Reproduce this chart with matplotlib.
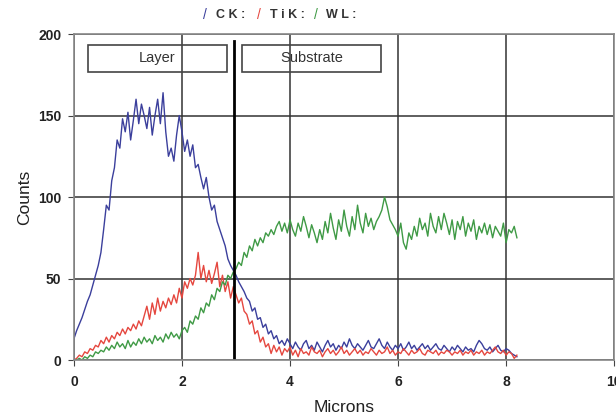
import numpy as np
import matplotlib.pyplot as plt
from matplotlib.patches import Rectangle

step = 0.05  # microns between samples

ck = [13, 18, 22, 26, 31, 36, 40, 46, 52, 58,
      66, 80, 95, 92, 110, 118, 135, 130, 148, 140,
      152, 135, 147, 160, 145, 157, 150, 142, 155, 138,
      150, 160, 145, 164, 140, 125, 130, 122, 138, 150,
      140, 128, 135, 125, 132, 118, 120, 112, 105, 112,
      100, 92, 95, 85, 80, 75, 70, 62, 58, 55,
      52, 48, 45, 42, 38, 36, 30, 32, 25, 26,
      20, 22, 16, 18, 13, 15, 10, 12, 9, 13,
      10, 7, 11, 8, 6, 10, 12, 7, 9, 6,
      11, 8, 5, 9, 12, 8, 10, 6, 9, 7,
      11, 8, 13, 9, 7, 10, 8, 6, 9, 12,
      8, 7, 10, 13, 9, 7, 11, 8, 6, 9,
      7, 10, 6, 8, 11, 7, 9, 6, 8, 10,
      7, 9, 6, 8, 10, 7, 6, 9, 7, 5,
      8, 6, 9, 7, 5, 8, 6, 7, 5, 9,
      12, 10, 7, 6, 8, 5, 7, 9, 6, 5,
      7, 6, 4, 3, 2]

tik = [0, 1, 3, 2, 5, 4, 7, 6, 9, 8,
       12, 10, 14, 11, 15, 13, 17, 15, 19, 16,
       20, 18, 22, 19, 24, 21, 27, 33, 25, 35,
       28, 38, 30, 36, 32, 38, 34, 40, 35, 44,
       38, 48, 44, 50, 46, 52, 66, 50, 58, 48,
       55, 47, 53, 60, 45, 52, 42, 48, 38, 45,
       40, 35, 38, 30, 28, 22, 24, 16, 18, 11,
       14, 8, 10, 4, 9, 5, 8, 3, 7, 5,
       8, 3, 6, 2, 7, 4, 5, 3, 8, 5,
       4, 6, 2, 5, 7, 4, 6, 3, 5, 8,
       4, 6, 3, 5, 7, 4, 6, 3, 5, 4,
       7, 5, 3, 6, 4, 5, 8, 4, 6, 3,
       5, 4, 7, 5, 3, 6, 4, 5, 7, 4,
       3, 6, 5, 4, 6, 3, 5, 4, 6, 5,
       3, 5, 4, 6, 3, 5, 4, 6, 3, 5,
       4, 6, 3, 5, 4, 6, 8, 5, 4, 6,
       3, 5, 4, 1, 3]

wl = [0, 0, 1, 0, 2, 1, 3, 2, 5, 4,
      6, 5, 8, 6, 9, 7, 11, 8, 10, 7,
      12, 8, 11, 9, 13, 10, 14, 11, 13, 10,
      15, 12, 14, 11, 16, 13, 17, 14, 16, 13,
      18, 20, 17, 24, 22, 27, 25, 32, 29, 35,
      33, 40, 37, 44, 42, 48, 46, 52, 50, 54,
      56, 60, 58, 66, 63, 70, 67, 74, 70, 75,
      72, 78, 76, 80, 77, 82, 85, 79, 84, 78,
      86, 80, 76, 84, 79, 88, 82, 75, 83, 78,
      72, 80, 74, 85, 78, 90, 81, 74, 86, 79,
      92, 82, 76, 88, 80, 95, 84, 78, 90, 82,
      87, 80, 85, 88, 92, 100, 94, 86, 83, 80,
      76, 84, 72, 68, 78, 74, 82, 76, 87, 80,
      84, 76, 90, 82, 78, 88, 80, 90, 84, 77,
      86, 74, 85, 80, 88, 76, 84, 79, 86, 74,
      82, 78, 84, 77, 83, 75, 82, 79, 76, 84,
      72, 80, 78, 82, 75]

x_ck = np.arange(len(ck)) * step
x_tik = np.arange(len(tik)) * step
x_wl = np.arange(len(wl)) * step

interface = 2.96

fig = plt.figure(figsize=(6.16, 4.15), dpi=100)
ax = fig.add_axes([0.120, 0.1325, 0.877, 0.7855])

ax.plot(x_ck, ck, color='#3b3f9c', lw=1.0)
ax.plot(x_tik, tik, color='#e5473f', lw=1.0)
ax.plot(x_wl, wl, color='#3f9a45', lw=1.0)

ax.plot([interface, interface], [0, 196], color='black', lw=2)

# region labels
for x0, x1, label in [(0.26, 2.83, 'Layer'), (3.11, 5.69, 'Substrate')]:
    ax.add_patch(Rectangle((x0, 177), x1 - x0, 16, fill=False,
                           edgecolor='#444444', lw=1.2))
    ax.text((x0 + x1) / 2, 185, label, ha='center', va='center',
            fontsize=10.5, color='#333333', family='Liberation Sans')

ax.set_xlim(0, 10)
ax.set_ylim(0, 200)
ax.set_xticks([0, 2, 4, 6, 8, 10])
ax.set_yticks([0, 50, 100, 150, 200])
ax.grid(True, color='#333333', lw=1.1)
ax.set_axisbelow(True)
for s in ax.spines.values():
    s.set_color('#888888')
    s.set_linewidth(1.2)
ax.tick_params(length=4, color='#444444', labelsize=10, labelcolor='#222222')
ax.tick_params(axis='x', pad=7)
ax.tick_params(axis='y', pad=5)
for lab in ax.get_xticklabels() + ax.get_yticklabels():
    lab.set_fontweight('bold')
    lab.set_family('Liberation Sans')

ax.set_xlabel('Microns', fontsize=12.5, family='Liberation Sans', color='#222222', labelpad=8)
ax.set_ylabel('Counts', fontsize=12.5, family='Liberation Sans', color='#222222', labelpad=4)

# legend row at top
legend = [('CK:', '#3b3f9c', 0.330), ('TiK:', '#e5473f', 0.418), ('WL:', '#3f9a45', 0.510)]
for name, col, xf in legend:
    fig.text(xf, 0.965, '/', color=col, fontsize=10, ha='left', va='center',
             family='Liberation Sans')
    fig.text(xf + 0.020, 0.965, ' '.join(name[:-1]) + ' :', color='#333333', fontsize=9,
             fontweight='bold', ha='left', va='center', family='Liberation Sans')

fig.savefig('out.png', dpi=100)
